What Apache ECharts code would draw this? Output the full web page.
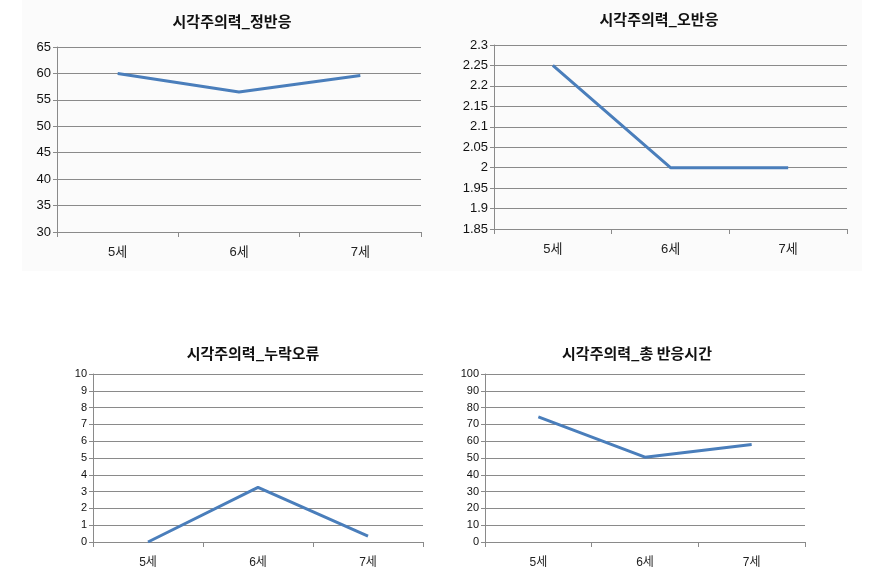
<!DOCTYPE html>
<html>
<head>
<meta charset="utf-8">
<script src="https://cdn.jsdelivr.net/npm/echarts@6/dist/echarts.min.js"></script>
<style>
  html, body { margin: 0; padding: 0; background: #fff; }
  #main { width: 888px; height: 580px; }
</style>
</head>
<body>
<div id="main"></div>
<script>
// categories + values
const ages = ["5세", "6세", "7세"];
const titles = ["시각주의력_정반응", "시각주의력_오반응", "시각주의력_누락오류", "시각주의력_총 반응시간"];
const correctResp = [60, 56.5, 59.6];
const falseResp = [2.25, 2.0, 2.0];
const omissionErr = [0, 3.25, 0.35];
const totalRespTime = [74.5, 50.5, 58];

const yRanges = [
  { min: 30, max: 65, interval: 5 },
  { min: 1.85, max: 2.3, interval: 0.05 },
  { min: 0, max: 10, interval: 1 },
  { min: 0, max: 100, interval: 10 }
];

const grids = [
  { left: 57, top: 47, width: 364, height: 185 },
  { left: 494, top: 45, width: 353, height: 184 },
  { left: 93, top: 374, width: 330, height: 168 },
  { left: 485, top: 374, width: 320, height: 168 }
];
const titleCenters = [[227, 9], [654, 7], [248, 341], [632, 341]];
const allData = [correctResp, falseResp, omissionErr, totalRespTime];

const lineColor = "#4A7EBB";
const gridColor = "#8a8a8a";
const fontFam = "'Liberation Sans', Arial, 'Noto Sans CJK KR', sans-serif";

function xAxisFor(i) {
  const small = i >= 2;
  return {
    type: "category",
    gridIndex: i,
    data: ages,
    boundaryGap: true,
    axisLine: { lineStyle: { color: gridColor, width: 1 } },
    axisTick: { show: true, length: 5, lineStyle: { color: gridColor } },
    axisLabel: {
      color: "#222",
      fontFamily: fontFam,
      fontSize: small ? 12 : 13,
      margin: small ? 15 : 14
    }
  };
}

function yAxisFor(i) {
  const r = yRanges[i];
  const small = i >= 2;
  return {
    type: "value",
    gridIndex: i,
    min: r.min,
    max: r.max,
    interval: r.interval,
    axisLine: { show: true, lineStyle: { color: gridColor, width: 1 } },
    axisTick: { show: true, length: 4, lineStyle: { color: gridColor } },
    splitLine: { lineStyle: { color: gridColor, width: 1 } },
    axisLabel: {
      color: "#111",
      fontFamily: fontFam,
      fontSize: small ? 11 : 13,
      margin: 6,
      formatter: function (v) { return String(+v.toFixed(2)); }
    }
  };
}

const option = {
  animation: false,
  backgroundColor: "#fff",
  graphic: [{
    type: "rect",
    z: -10,
    shape: { x: 22, y: 0, width: 840, height: 271 },
    style: { fill: "#fbfbfb" }
  }],
  title: titles.map(function (t, i) {
    return {
      text: t,
      left: titleCenters[i][0],
      top: titleCenters[i][1],
      textAlign: "center",
      textStyle: {
        fontFamily: "'Noto Sans CJK KR', sans-serif",
        fontWeight: "bold",
        fontSize: 15,
        color: "#111"
      }
    };
  }),
  grid: grids,
  xAxis: [0, 1, 2, 3].map(xAxisFor),
  yAxis: [0, 1, 2, 3].map(yAxisFor),
  series: allData.map(function (d, i) {
    return {
      type: "line",
      xAxisIndex: i,
      yAxisIndex: i,
      data: d,
      symbol: "none",
      lineStyle: { color: lineColor, width: 3 }
    };
  })
};

const chart = echarts.init(document.getElementById("main"));
chart.setOption(option);
window.onresize = function () { chart.resize(); };
</script>
</body>
</html>
